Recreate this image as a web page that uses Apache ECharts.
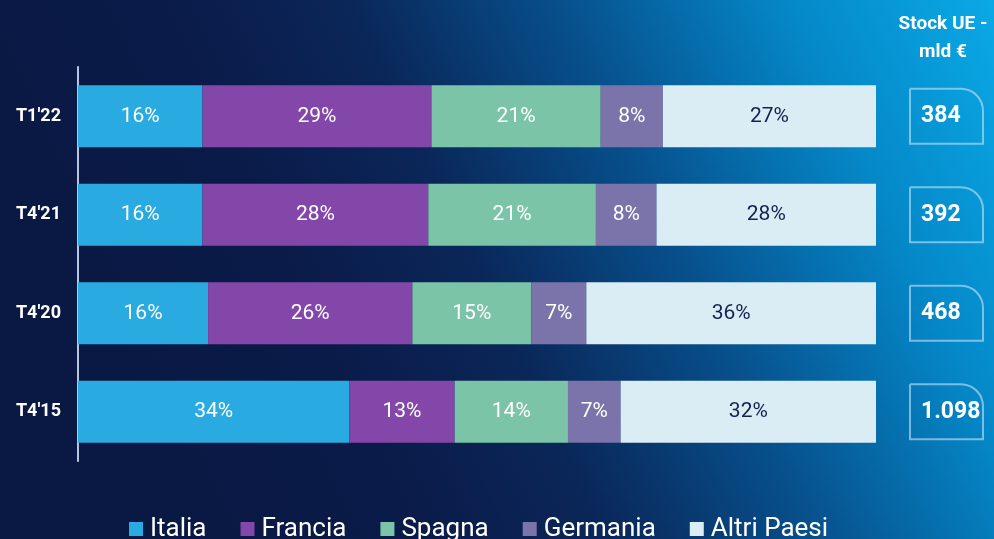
<!DOCTYPE html>
<html>
<head>
<meta charset="utf-8">
<script src="https://cdn.jsdelivr.net/npm/echarts@6/dist/echarts.min.js"></script>
<style>
  html, body { margin: 0; padding: 0; }
  #chart { width: 994px; height: 539px; }
</style>
</head>
<body>
<div id="chart"></div>
<script>
// periodi (dall'alto verso il basso)
const periods = ["T1'22", "T4'21", "T4'20", "T4'15"];
// quote in % stimate dalla lunghezza dei segmenti
const italia = [15.6, 15.6, 16.3, 34.0];
const francia = [28.7, 28.3, 25.6, 13.2];
const spagna = [21.2, 21.0, 14.9, 14.2];
const germania = [7.8, 7.6, 6.9, 6.6];
const altri = [26.7, 27.5, 36.3, 32.0];
// stock UE in mld €
const stockUE = ['384', '392', '468', '1.098'];

const chart = echarts.init(document.getElementById('chart'));

function makeSeries(name, data, color, labelColor) {
  return {
    name: name,
    type: 'bar',
    stack: 'tot',
    barWidth: 62,
    data: data,
    itemStyle: { color: color },
    label: {
      show: true,
      position: 'inside',
      color: labelColor,
      fontSize: 21,
      fontFamily: 'Roboto',
      formatter: (p) => Math.round(p.value) + '%',
    },
  };
}

const option = {
  backgroundColor: {
    type: 'linear',
    x: 1, y: 0, x2: 0.15, y2: 0.75,
    colorStops: [
      { offset: 0, color: '#0aa9e6' },
      { offset: 0.2, color: '#0588c8' },
      { offset: 0.42, color: '#07508c' },
      { offset: 0.62, color: '#0a2759' },
      { offset: 0.8, color: '#0a1b49' },
      { offset: 1, color: '#0a1944' },
    ],
  },
  title: {
    text: 'Stock UE -\nmld €',
    left: 938,
    top: 5,
    textAlign: 'center',
    textStyle: {
      color: '#fff',
      fontSize: 19,
      fontWeight: 'bold',
      fontFamily: 'Roboto',
      lineHeight: 28,
    },
  },
  legend: {
    left: 124,
    top: 511,
    itemWidth: 14,
    itemHeight: 14,
    itemGap: 34,
    icon: 'rect',
    textStyle: { color: '#fff', fontSize: 26, fontFamily: 'Roboto', padding: [0, 0, 0, 2] },
    data: ['Italia', 'Francia', 'Spagna', 'Germania', 'Altri Paesi'],
  },
  grid: { left: 78, right: 118, top: 67, bottom: 78 },
  xAxis: {
    type: 'value',
    min: 0,
    max: 100,
    show: false,
  },
  yAxis: [
    {
      type: 'category',
      inverse: true,
      data: periods,
      axisLine: { lineStyle: { color: '#b7c6de', width: 2 } },
      axisTick: { show: false },
      axisLabel: {
        color: '#fff',
        fontSize: 18,
        fontWeight: 'bold',
        fontFamily: 'Roboto',
        margin: 17,
      },
    },
    {
      type: 'category',
      inverse: true,
      position: 'right',
      data: periods,
      axisLine: { show: false },
      axisTick: { show: false },
      axisLabel: {
        align: 'left',
        margin: 34,
        formatter: (v, i) => stockUE[i],
        color: '#fff',
        fontSize: 23,
        fontWeight: 'bold',
        fontFamily: 'Roboto',
        width: 62,
        height: 53,
        lineHeight: 53,
        padding: [2, 0, 0, 11],
        borderColor: 'rgba(200, 228, 248, 0.6)',
        borderWidth: 2,
        borderRadius: [0, 22, 0, 0],
      },
    },
  ],
  series: [
    makeSeries('Italia', italia, '#29abe2', '#fff'),
    makeSeries('Francia', francia, '#8347aa', '#fff'),
    makeSeries('Spagna', spagna, '#7bc4a7', '#fff'),
    makeSeries('Germania', germania, '#7b74aa', '#fff'),
    makeSeries('Altri Paesi', altri, '#dbedf4', '#14224f'),
  ],
};

chart.setOption(option);
</script>
</body>
</html>
